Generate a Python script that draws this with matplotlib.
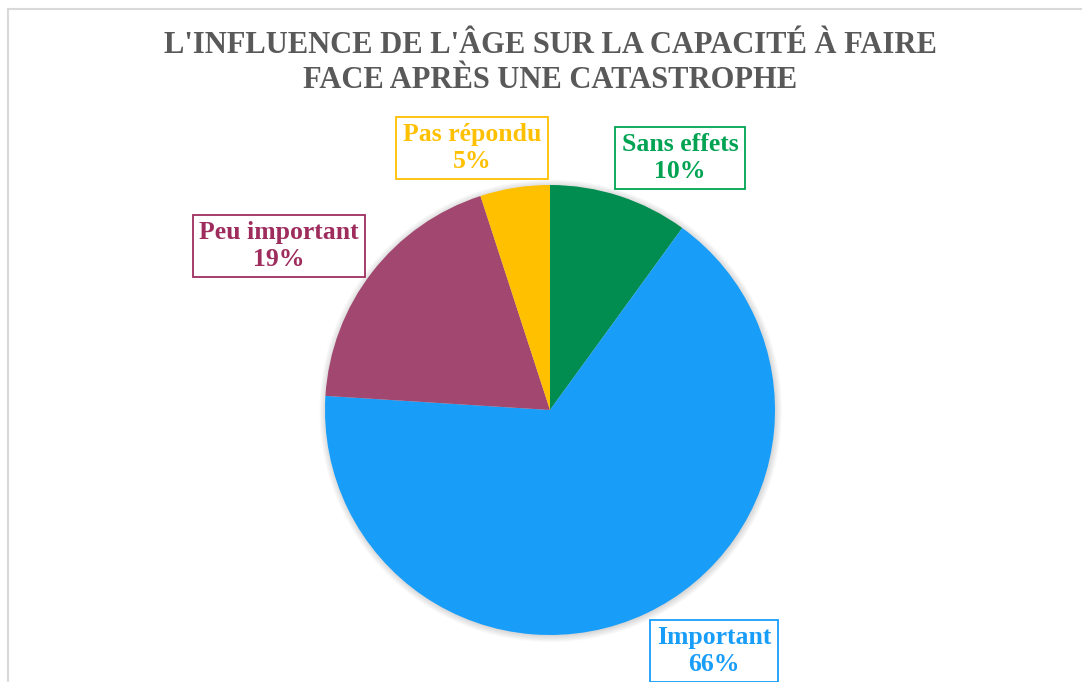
import matplotlib
matplotlib.use("Agg")
import matplotlib.pyplot as plt
from matplotlib.patches import Rectangle, Circle

# ======================
# Data
# ======================
categories = ["Sans effets", "Important", "Peu important", "Pas répondu"]
values = [10, 66, 19, 5]
slice_colors = ["#008D4F", "#189DF9", "#A2476F", "#FFC000"]
label_colors = ["#00A352", "#189DF9", "#9E2D5E", "#FFC000"]
title = "L'INFLUENCE DE L'ÂGE SUR LA CAPACITÉ À FAIRE\nFACE APRÈS UNE CATASTROPHE"

W, H = 1082, 682
plt.rcParams['font.family'] = ['Liberation Serif', 'DejaVu Serif']

fig = plt.figure(figsize=(W / 100, H / 100), dpi=100)
fig.patch.set_facecolor("white")

# chart area border (runs off the right and bottom edges)
fig.patches.append(Rectangle((8 / W, -0.1), 1.1, (H - 9) / H + 0.1,
                             transform=fig.transFigure, fill=False,
                             edgecolor="#D9D9D9", linewidth=1.5))

# pie axes: centre (550, 410) px, radius 225 px
cx, cy, r = 550, 410, 225
pad = 1.1
ax = fig.add_axes([(cx - r * pad) / W, (H - cy - r * pad) / H,
                   2 * r * pad / W, 2 * r * pad / H])
ax.set_xlim(-pad, pad)
ax.set_ylim(-pad, pad)
ax.axis("off")

# soft shadow round the pie
for k in range(8):
    ax.add_patch(Circle((0.003, -0.004), 1.0 + k * 0.004, color="black",
                        alpha=0.02, linewidth=0, zorder=0))

ax.pie(values, colors=slice_colors, startangle=90, counterclock=False,
       radius=1.0, wedgeprops=dict(linewidth=0))
ax.set_xlim(-pad, pad)
ax.set_ylim(-pad, pad)

# ======================
# Labels
# ======================
label_pos = [(680, 158), (714, 651), (279, 246), (472, 148)]
for name, v, col, (px, py) in zip(categories, values, label_colors, label_pos):
    fig.text(px / W, 1 - py / H, f"{name}\n{v}%", ha="center", va="center",
             color=col, fontsize=18.5, fontweight="bold", linespacing=1.22,
             bbox=dict(boxstyle="square,pad=0.25", facecolor="white",
                       edgecolor=col, linewidth=1.3))

fig.text(550 / W, 1 - 63 / H, title, ha="center", va="center",
         color="#595959", fontsize=22, fontweight="bold", linespacing=1.25)

fig.savefig("out.png", dpi=100)
